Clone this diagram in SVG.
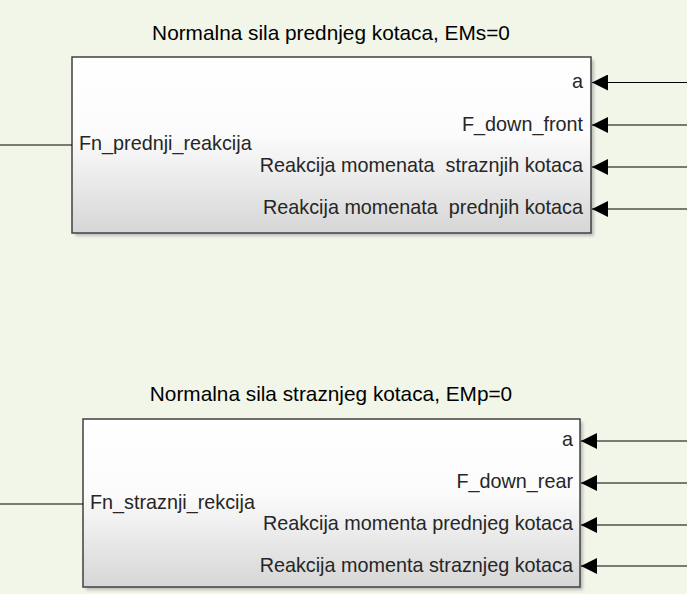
<svg xmlns="http://www.w3.org/2000/svg" width="687" height="594" viewBox="0 0 687 594">
  <style>
    .title { font-family: "Liberation Sans", Arial, sans-serif; font-size: 20.8px; fill: #000; }
    .port { font-family: "Liberation Sans", Arial, sans-serif; font-size: 19.8px; fill: #262626; }
    .box { fill: url(#blockFill); stroke: #404040; stroke-width: 1.5; }
    .shadow { fill: #9a9a9a; opacity: 0.6; }
    .wire { stroke: #000; stroke-width: 1; fill: none; }
  </style>
  <defs>
    <linearGradient id="blockFill" x1="0" y1="0" x2="0" y2="1">
      <stop offset="0" stop-color="#ffffff"/>
      <stop offset="0.45" stop-color="#fbfbfb"/>
      <stop offset="1" stop-color="#d6d6d6"/>
    </linearGradient>
    <filter id="soft" x="-5%" y="-5%" width="110%" height="110%">
      <feGaussianBlur stdDeviation="1.5"/>
    </filter>
    <marker id="arrow" viewBox="0 0 16 16" refX="16" refY="8" markerWidth="16" markerHeight="16" markerUnits="userSpaceOnUse" orient="auto">
      <path d="M0,0 L16,8 L0,16 Z" fill="#000"/>
    </marker>
  </defs>

  <rect width="687" height="594" fill="#f1f6e9"/>

  <!-- Front wheel normal force block -->
  <g id="block-front">
    <text class="title" x="331" y="40" text-anchor="middle">Normalna sila prednjeg kotaca, EMs=0</text>
    <rect class="shadow" x="75" y="60" width="519" height="176" filter="url(#soft)"/>
    <rect class="box" x="72" y="57" width="519" height="176"/>
    <text class="port" x="79" y="150">Fn_prednji_reakcija</text>
    <g text-anchor="end">
      <text class="port" x="583" y="88">a</text>
      <text class="port" x="583" y="131">F_down_front</text>
      <text class="port" x="583" y="172" xml:space="preserve">Reakcija momenata  straznjih kotaca</text>
      <text class="port" x="583" y="214" xml:space="preserve">Reakcija momenata  prednjih kotaca</text>
    </g>
  </g>

  <!-- Rear wheel normal force block -->
  <g id="block-rear">
    <text class="title" x="331" y="401" text-anchor="middle">Normalna sila straznjeg kotaca, EMp=0</text>
    <rect class="shadow" x="86" y="422" width="497" height="168" filter="url(#soft)"/>
    <rect class="box" x="83" y="419" width="497" height="168"/>
    <text class="port" x="90" y="509">Fn_straznji_rekcija</text>
    <g text-anchor="end">
      <text class="port" x="573" y="446">a</text>
      <text class="port" x="573" y="488">F_down_rear</text>
      <text class="port" x="573" y="530">Reakcija momenta prednjeg kotaca</text>
      <text class="port" x="573" y="572">Reakcija momenta straznjeg kotaca</text>
    </g>
  </g>

  <!-- Signal lines -->
  <g id="connectors">
    <path class="wire" d="M0,145 H72"/>
    <path class="wire" d="M687,82.5 H592" marker-end="url(#arrow)"/>
    <path class="wire" d="M687,125 H592" marker-end="url(#arrow)"/>
    <path class="wire" d="M687,167 H592" marker-end="url(#arrow)"/>
    <path class="wire" d="M687,209 H592" marker-end="url(#arrow)"/>
    <path class="wire" d="M0,504 H83"/>
    <path class="wire" d="M687,441 H581" marker-end="url(#arrow)"/>
    <path class="wire" d="M687,483 H581" marker-end="url(#arrow)"/>
    <path class="wire" d="M687,525 H581" marker-end="url(#arrow)"/>
    <path class="wire" d="M687,566 H581" marker-end="url(#arrow)"/>
  </g>
</svg>
